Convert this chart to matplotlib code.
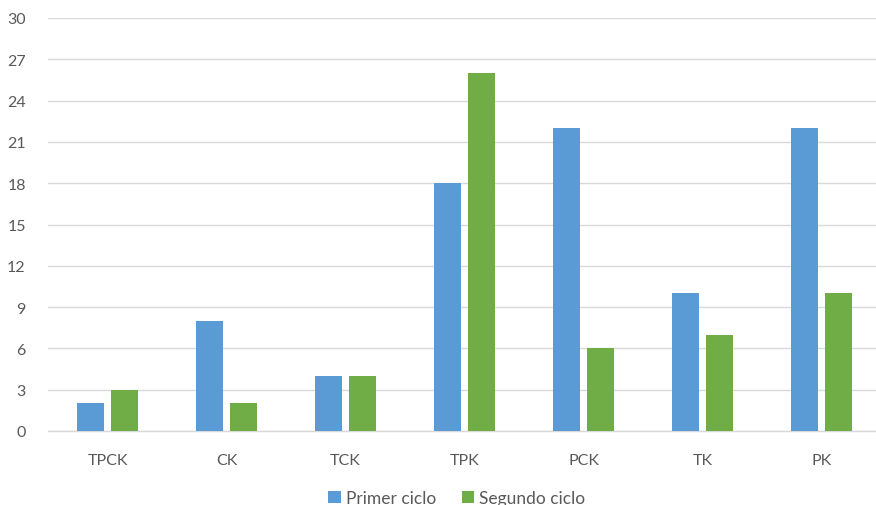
import matplotlib
matplotlib.use("Agg")
import matplotlib.pyplot as plt
import numpy as np

categories = ["TPCK", "CK", "TCK", "TPK", "PCK", "TK", "PK"]
primer_ciclo = [2, 8, 4, 18, 22, 10, 22]
segundo_ciclo = [3, 2, 4, 26, 6, 7, 10]
series_names = ["Primer ciclo", "Segundo ciclo"]
y_ticks = list(range(0, 31, 3))

plt.rcParams["font.family"] = ["Lato", "DejaVu Sans"]

W, H = 876, 506
fig = plt.figure(figsize=(W / 100, H / 100), dpi=100)
ax = fig.add_axes([48 / W, 1 - 432 / H, (876 - 48) / W, (432 - 19) / H])

x = np.arange(len(categories))
bw = 0.227
off = 0.143
ax.bar(x - off, primer_ciclo, bw, color="#5B9BD5", label=series_names[0], zorder=3)
ax.bar(x + off, segundo_ciclo, bw, color="#70AD47", label=series_names[1], zorder=3)

ax.set_ylim(0, 30)
ax.set_xlim(-0.5, -0.5 + (876 - 48) / 119)
ax.set_yticks(y_ticks)
ax.set_xticks(x)
ax.set_xticklabels(categories)
ax.grid(axis="y", color="#D9D9D9", linewidth=1, zorder=0)
for s in ["top", "right", "left"]:
    ax.spines[s].set_visible(False)
ax.spines["bottom"].set_color("#D9D9D9")
ax.spines["bottom"].set_linewidth(1)
ax.tick_params(axis="both", length=0, colors="#595959", labelsize=11.5)
ax.tick_params(axis="y", pad=16)
ax.tick_params(axis="x", pad=16)

fig.legend(loc="center", bbox_to_anchor=(457 / W, 1 - 499 / H), ncol=2,
           frameon=False, fontsize=12.5, labelcolor="#595959",
           handlelength=0.7, handleheight=0.7, handletextpad=0.3, columnspacing=1.5)

fig.savefig("out.png", dpi=100)
